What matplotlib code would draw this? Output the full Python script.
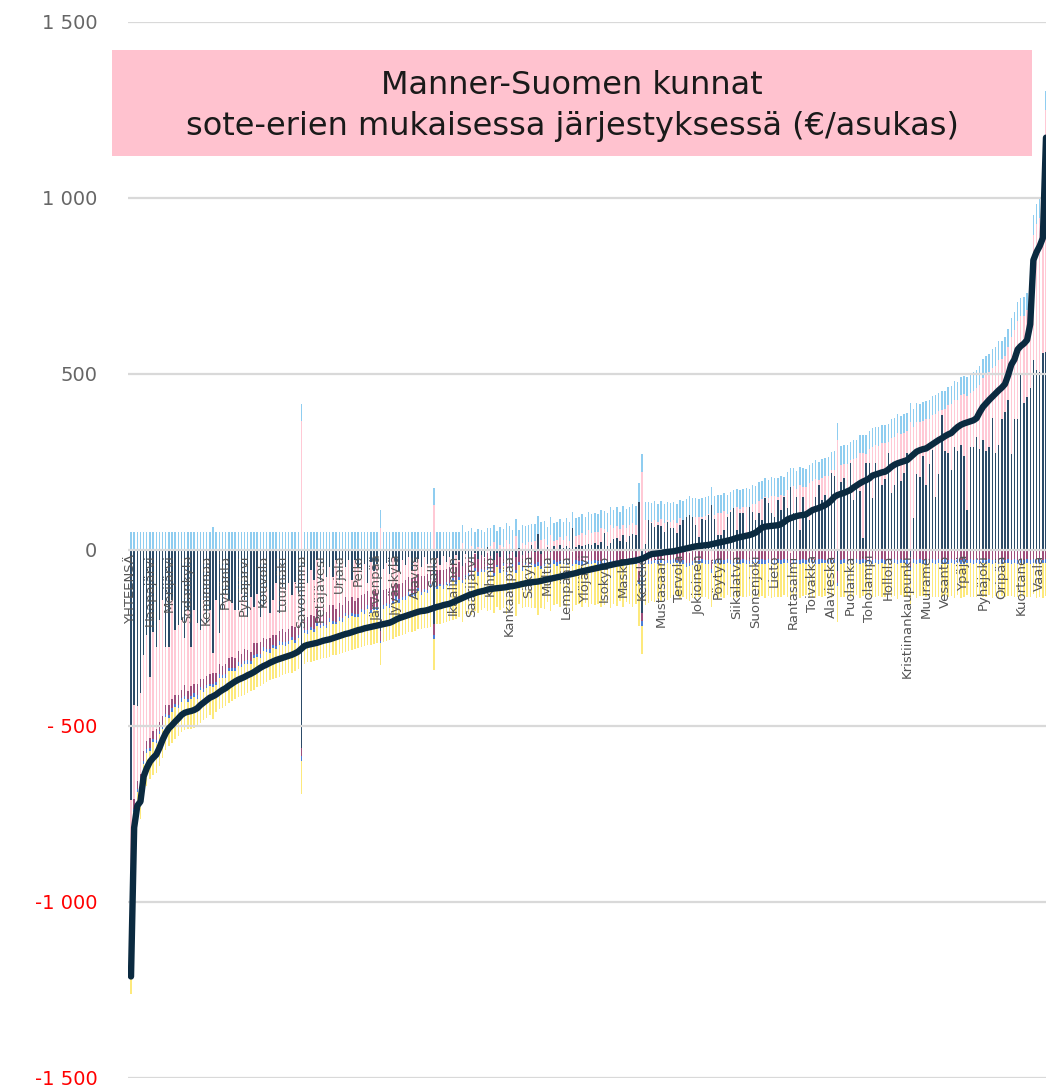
import numpy as np
import matplotlib
matplotlib.use("Agg")
import matplotlib.pyplot as plt
from matplotlib.patches import Rectangle

# total per municipality (black line), sorted
total = [
    -1213, -790, -728, -716, -645, -621, -603, -592, -583, -564,
    -541, -522, -508, -499, -489, -480, -470, -464, -461, -459,
    -456, -451, -442, -435, -428, -421, -417, -412, -405, -399,
    -394, -387, -381, -375, -370, -366, -362, -357, -353, -348,
    -342, -336, -331, -327, -322, -318, -314, -311, -308, -305,
    -302, -299, -295, -290, -282, -274, -271, -269, -267, -265,
    -262, -259, -257, -255, -252, -249, -246, -243, -240, -238,
    -235, -232, -229, -227, -224, -222, -220, -218, -216, -214,
    -212, -210, -208, -204, -199, -195, -192, -189, -186, -183,
    -180, -177, -175, -174, -172, -169, -166, -163, -161, -158,
    -156, -154, -150, -146, -142, -138, -134, -130, -127, -124,
    -121, -119, -117, -114, -112, -111, -110, -109, -108, -107,
    -105, -104, -102, -100, -98, -96, -94, -93, -92, -91,
    -89, -87, -85, -83, -81, -79, -77, -75, -73, -71,
    -69, -67, -64, -62, -60, -58, -56, -54, -52, -50,
    -48, -46, -44, -42, -40, -39, -37, -36, -34, -33,
    -31, -29, -26, -22, -17, -13, -12, -11, -10, -8,
    -7, -6, -5, -3, -1, 1, 3, 5, 7, 9,
    10, 11, 12, 13, 15, 17, 19, 21, 23, 25,
    27, 30, 33, 35, 37, 39, 41, 44, 48, 55,
    62, 65, 66, 67, 68, 69, 72, 78, 85, 89,
    92, 95, 97, 98, 100, 106, 112, 115, 118, 122,
    126, 132, 140, 150, 155, 158, 161, 165, 169, 176,
    182, 188, 193, 197, 202, 210, 213, 216, 219, 221,
    227, 235, 241, 245, 248, 251, 254, 262, 270, 278,
    282, 285, 287, 293, 299, 305, 311, 316, 322, 327,
    331, 340, 348, 354, 358, 361, 364, 367, 373, 390,
    405, 415, 425, 434, 443, 452, 460, 470, 495, 525,
    540, 568, 578, 585, 595, 640, 822, 845, 862, 885,
    1170,
]

navy = [
    -712, -442, -446, -408, -300, -243, -361, -233, -276, -200,
    -143, -276, -276, -143, -229, -215, -200, -252, -172, -276,
    -172, -210, -229, -143, -210, -172, -295, -143, -238, -172,
    -125, -143, -153, -172, -172, -125, -143, -191, -134, -162,
    -125, -191, -162, -106, -181, -143, -96, -181, -106, -115,
    -96, -130, -91, -120, -565, -49, -96, -58, -87, -30,
    -87, -49, -77, -49, -77, -30, -87, -30, -49, -30,
    -87, -30, -49, -58, -40, -95, -35, -60, -42, -232,
    -55, -38, -70, -25, -48, -62, -30, -45, -20, -58,
    -35, -28, -50, -22, -40, -30, -213, -25, -44, -18,
    -36, -20, -42, -15, -30, -48, -12, -25, -35, -10,
    -28, -15, -22, 8, -18, -30, -10, -20, -5, -26,
    -12, -8, -20, 5, -15, -4, -10, 12, -6, 44,
    -14, -3, 6, -8, 10, 2, 13, 4, 9, 3,
    60, 8, 12, 10, 14, 16, 13, 18, 12, 22,
    46, 10, 18, 29, 32, 25, 41, 20, 38, 44,
    40, 136, -180, 15, 84, 74, 65, 70, 66, 51,
    79, 62, 60, 46, 70, 84, 93, 98, 93, 70,
    36, 88, 84, 98, 126, 88, 41, 41, 55, 93,
    107, 117, 55, 103, 103, 46, 122, 107, 84, 103,
    84, 145, 131, 103, 93, 141, 112, 150, 117, 178,
    103, 150, 55, 150, 103, 84, 117, 150, 183, 141,
    155, 136, 216, 210, -60, 193, 202, 160, 245, 141,
    178, 165, 33, 246, 245, 146, 245, 218, 183, 200,
    275, 160, 183, 244, 195, 218, 275, -20, 90, 215,
    205, 265, 183, 244, 283, 150, 215, 382, 280, 275,
    227, 290, 280, 298, 266, 112, 290, 292, 320, 285,
    310, 280, 290, 373, 275, 298, 370, 392, 425, 270,
    370, 370, 501, 416, 433, 458, 538, 510, 505, 558,
    560,
]

lightblue = [
    50, 50, 49, 51, 50, 50, 49, 50, 51, 50,
    50, 49, 50, 51, 50, 50, 49, 50, 50, 51,
    50, 49, 50, 50, 51, 50, 64, 50, 49, 50,
    51, 50, 50, 49, 50, 51, 50, 50, 49, 50,
    50, 51, 50, 49, 50, 50, 51, 50, 49, 50,
    50, 51, 49, 50, 48, 50, 50, 51, 50, 49,
    50, 50, 51, 50, 49, 50, 51, 50, 50, 49,
    50, 51, 50, 49, 50, 50, 51, 50, 49, 52,
    50, 51, 50, 49, 50, 50, 51, 50, 49, 50,
    51, 50, 50, 49, 50, 51, 49, 50, 50, 51,
    50, 49, 50, 51, 50, 50, 49, 51, 50, 50,
    51, 49, 50, 52, 50, 49, 51, 50, 52, 49,
    50, 52, 49, 51, 50, 53, 49, 51, 50, 51,
    52, 50, 51, 49, 53, 50, 52, 51, 50, 53,
    47, 52, 50, 53, 51, 50, 54, 52, 51, 53,
    50, 54, 52, 51, 53, 50, 54, 52, 51, 53,
    52, 52, 51, 53, 51, 54, 52, 53, 51, 54,
    52, 53, 51, 54, 52, 53, 51, 54, 52, 53,
    51, 54, 52, 53, 51, 54, 52, 53, 51, 54,
    52, 53, 51, 54, 52, 53, 51, 54, 52, 53,
    51, 54, 52, 53, 51, 54, 52, 53, 51, 54,
    52, 53, 51, 54, 52, 53, 51, 54, 52, 53,
    51, 54, 52, 53, 48, 54, 52, 53, 51, 54,
    52, 53, 51, 54, 52, 53, 51, 54, 52, 53,
    51, 54, 52, 53, 51, 54, 52, 55, 51, 54,
    52, 53, 51, 54, 52, 53, 51, 54, 52, 53,
    51, 54, 52, 53, 51, 54, 52, 53, 51, 54,
    52, 53, 51, 54, 52, 53, 51, 54, 52, 53,
    51, 54, 52, 53, 51, 54, 55, 56, 55, 56,
    55,
]

maroon = [
    -24, -28, -22, -26, -30, -24, -27, -22, -29, -25,
    -27, -23, -30, -26, -24, -28, -25, -29, -23, -27,
    -26, -30, -24, -28, -25, -27, -31, -24, -29, -26,
    -30, -27, -33, -28, -31, -26, -32, -29, -27, -33,
    -29, -34, -28, -31, -33, -27, -32, -30, -35, -29,
    -33, -31, -36, -30, -22, -34, -38, -32, -36, -40,
    -35, -42, -37, -39, -44, -36, -41, -38, -45, -40,
    -43, -38, -46, -40, -44, -42, -39, -45, -41, -27,
    -44, -40, -46, -42, -38, -45, -41, -47, -43, -39,
    -44, -40, -46, -38, -43, -41, -29, -45, -39, -42,
    -38, -43, -40, -36, -42, -39, -35, -41, -37, -40,
    -36, -39, -34, -38, -35, -37, -33, -36, -34, -38,
    -35, -33, -37, -34, -36, -32, -35, -33, -36, -34,
    -33, -35, -32, -34, -31, -35, -33, -32, -34, -31,
    -33, -31, -34, -32, -35, -30, -33, -31, -34, -32,
    -30, -33, -31, -34, -32, -30, -33, -31, -32, -30,
    -33, -31, -24, -32, -30, -33, -29, -31, -30, -32,
    -29, -31, -28, -30, -32, -29, -31, -28, -30, -29,
    -31, -28, -30, -29, -27, -30, -28, -31, -29, -27,
    -30, -28, -29, -31, -27, -30, -28, -29, -27, -30,
    -28, -30, -27, -29, -31, -28, -30, -27, -29, -28,
    -30, -27, -29, -28, -30, -27, -29, -31, -28, -27,
    -29, -28, -30, -27, -35, -29, -28, -30, -27, -29,
    -28, -30, -27, -29, -28, -30, -27, -29, -28, -30,
    -27, -29, -28, -30, -27, -29, -28, -30, -28, -29,
    -27, -30, -28, -29, -27, -30, -28, -29, -27, -30,
    -28, -29, -27, -30, -28, -29, -27, -30, -28, -29,
    -27, -30, -28, -29, -27, -30, -28, -29, -27, -30,
    -28, -29, -27, -30, -28, -29, -27, -30, -28, -29,
    -28,
]

blue = [
    -10, -8, -9, -11, -8, -10, -9, -8, -10, -9,
    -8, -10, -9, -11, -9, -8, -10, -9, -8, -10,
    -9, -11, -8, -10, -9, -8, -10, -9, -11, -8,
    -10, -9, -8, -10, -11, -9, -8, -10, -9, -8,
    -10, -9, -11, -8, -10, -9, -8, -10, -9, -11,
    -8, -10, -9, -8, -14, -10, -9, -11, -8, -10,
    -9, -8, -10, -11, -9, -8, -10, -9, -11, -8,
    -10, -9, -8, -10, -11, -9, -8, -10, -9, -8,
    -10, -9, -11, -8, -10, -9, -8, -10, -9, -11,
    -8, -10, -9, -8, -10, -11, -12, -9, -8, -10,
    -9, -11, -8, -10, -9, -8, -10, -9, -11, -8,
    -10, -9, -8, -10, -11, -9, -8, -10, -9, -8,
    -10, -9, -11, -8, -10, -9, -8, -10, -9, -11,
    -8, -10, -9, -8, -10, -11, -9, -8, -10, -9,
    -8, -10, -9, -11, -8, -10, -9, -8, -10, -9,
    -11, -8, -10, -9, -8, -10, -11, -9, -8, -10,
    -9, -8, -12, -10, -11, -9, -8, -10, -9, -8,
    -10, -11, -9, -8, -10, -9, -11, -10, -12, -10,
    -11, -10, -12, -11, -10, -12, -11, -10, -12, -11,
    -10, -12, -11, -10, -12, -11, -10, -12, -11, -10,
    -12, -11, -10, -12, -11, -10, -12, -11, -10, -12,
    -11, -10, -12, -11, -10, -12, -11, -10, -12, -11,
    -10, -12, -11, -10, -10, -12, -11, -10, -12, -11,
    -10, -12, -11, -10, -12, -11, -10, -12, -11, -10,
    -12, -11, -10, -12, -11, -10, -12, -10, -11, -12,
    -10, -11, -12, -10, -11, -12, -10, -11, -12, -10,
    -11, -12, -10, -11, -12, -10, -11, -12, -10, -11,
    -12, -10, -11, -12, -10, -11, -12, -10, -11, -12,
    -10, -11, -12, -10, -11, -12, -10, -11, -12, -10,
    -11,
]

yellow = [
    -90, -95, -88, -92, -85, -94, -80, -96, -84, -90,
    -82, -95, -78, -88, -92, -80, -86, -90, -78, -84,
    -88, -76, -92, -80, -86, -82, -90, -78, -88, -84,
    -80, -92, -86, -78, -90, -84, -88, -82, -76, -90,
    -86, -80, -92, -84, -78, -88, -82, -90, -86, -80,
    -84, -92, -78, -88, -93, -86, -82, -90, -84, -96,
    -88, -92, -84, -98, -90, -86, -94, -88, -100, -92,
    -96, -90, -88, -98, -92, -104, -90, -96, -92, -60,
    -94, -100, -92, -98, -106, -94, -100, -96, -104, -98,
    -100, -108, -96, -102, -98, -110, -88, -100, -106, -98,
    -104, -98, -110, -100, -106, -112, -100, -108, -104, -114,
    -106, -110, -102, -116, -108, -104, -112, -106, -118, -110,
    -114, -108, -120, -112, -106, -118, -110, -122, -114, -140,
    -112, -120, -108, -124, -116, -110, -122, -114, -118, -108,
    -128, -116, -112, -120, -108, -124, -114, -118, -110, -122,
    -116, -108, -124, -112, -120, -106, -118, -110, -114, -122,
    -112, -118, -80, -116, -110, -104, -112, -100, -108, -98,
    -104, -96, -102, -94, -100, -96, -92, -100, -94, -98,
    -92, -98, -94, -100, -96, -92, -98, -94, -96, -92,
    -96, -94, -98, -92, -96, -94, -90, -98, -94, -96,
    -92, -96, -94, -98, -92, -96, -94, -90, -96, -94,
    -98, -92, -96, -94, -90, -96, -94, -98, -92, -96,
    -94, -90, -96, -92, -100, -94, -96, -92, -98, -94,
    -92, -96, -94, -90, -96, -94, -98, -92, -96, -94,
    -90, -96, -94, -98, -92, -96, -94, -95, -90, -96,
    -94, -92, -96, -94, -98, -92, -96, -94, -90, -96,
    -94, -98, -92, -96, -94, -90, -96, -94, -98, -92,
    -96, -94, -90, -96, -94, -98, -92, -96, -94, -90,
    -96, -94, -98, -92, -96, -94, -90, -96, -94, -98,
    -94,
]

# every sixth municipality is labelled
labels = [
    "YHTEENSÄ", "Haapajärvi", "Merijärvi", "Sodankylä", "Keminmaa", "Pyhäntä",
    "Pyhäjärvi", "Kouvola", "Luumäki", "Savonlinna", "Petäjävesi", "Urjala",
    "Pello", "Järvenpää", "Jyväskylä", "Alavus", "Salla", "Ikaalinen",
    "Saarijärvi", "Kihniö", "Kankaanpää", "Säkylä", "Multia", "Lempäälä",
    "Ylöjärvi", "Isokyrö", "Masku", "Keitele", "Mustasaari", "Tervola",
    "Jokioinen", "Pöytyä", "Siikalatva", "Suonenjoki", "Lieto", "Rantasalmi",
    "Toivakka", "Alavieska", "Puolanka", "Toholampi", "Hollola",
    "Kristiinankaupunki", "Muurame", "Vesanto", "Ypäjä", "Pyhäjoki", "Oripää",
    "Kuortane", "Vaala",
]
label_step = 6

n = len(total)
for arr in (navy, lightblue, maroon, blue, yellow):
    assert len(arr) == n, len(arr)

tot = np.array(total, float)
nv = np.array(navy, float)
lb = np.array(lightblue, float)
mr = np.array(maroon, float)
bl = np.array(blue, float)
ye = np.array(yellow, float)
pink = tot - (nv + lb + mr + bl + ye)

x = np.arange(n)

fig = plt.figure(figsize=(10.46, 10.9), dpi=100)
ax = fig.add_axes([128 / 1046, 1 - 1077.5 / 1090, 1 - 128 / 1046, (1077.5 - 21.5) / 1090])

series = [
    (nv, "#2c4b68"),
    (pink, "#ffc9d5"),
    (lb, "#8fcdf0"),
    (mr, "#9e4f7b"),
    (bl, "#4c7fd8"),
    (ye, "#fde97c"),
]
pos = np.zeros(n)
neg = np.zeros(n)
for vals, col in series:
    bottom = np.where(vals >= 0, pos, neg)
    ax.bar(x, vals, width=0.45, bottom=bottom, color=col, linewidth=0, zorder=2)
    pos += np.clip(vals, 0, None)
    neg += np.clip(vals, None, 0)

for yv in range(-1500, 1501, 500):
    ax.axhline(yv, color="#d9d9d9", lw=1.6, zorder=3)

ax.plot(x, tot, color="#0b2a40", lw=4.6, solid_joinstyle="round",
        solid_capstyle="round", zorder=6)

for k, name in enumerate(labels):
    ax.text(k * label_step, -14, name, rotation=90, ha="center", va="top",
            fontsize=9.5, color="#555555", zorder=5)

ax.set_xlim(-0.95, 290.0)
ax.set_ylim(-1500, 1500)
ax.set_xticks([])
yt = [1500, 1000, 500, 0, -500, -1000, -1500]
ytl = ["1 500", "1 000", "500", "0", "- 500", "-1 000", "-1 500"]
ax.set_yticks(yt)
ax.set_yticklabels(ytl, fontsize=14)
for t, v in zip(ax.get_yticklabels(), yt):
    t.set_color("red" if v < 0 else "#666666")
ax.tick_params(axis="y", length=0, pad=22)
for s in ax.spines.values():
    s.set_visible(False)

fig.add_artist(Rectangle((112 / 1046, 1 - 156 / 1090), 920 / 1046, 106 / 1090,
                         transform=fig.transFigure, facecolor="#ffc2cf",
                         edgecolor="none", zorder=10))
fig.text(572 / 1046, 1 - 85 / 1090, "Manner-Suomen kunnat", ha="center",
         va="center", fontsize=23, color="#1a1a1a", zorder=11)
fig.text(572 / 1046, 1 - 127 / 1090, "sote-erien mukaisessa järjestyksessä (€/asukas)",
         ha="center", va="center", fontsize=23, color="#1a1a1a", zorder=11)

fig.savefig("out.png", dpi=100)
